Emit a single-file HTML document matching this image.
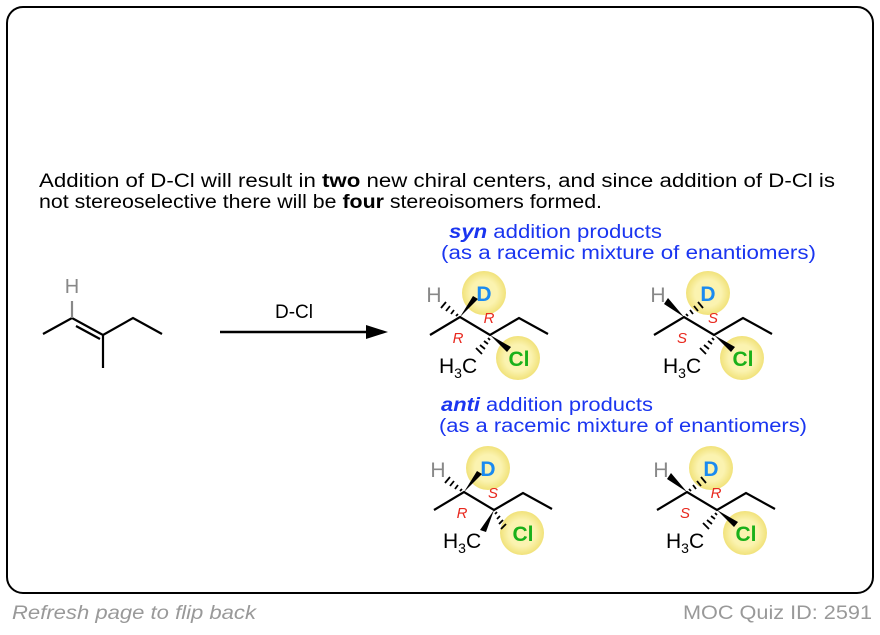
<!DOCTYPE html><html><head><style>body{margin:0;width:880px;height:630px;background:#fff;overflow:hidden}</style></head><body>
<svg width="880" height="630" xmlns="http://www.w3.org/2000/svg" font-family="Liberation Sans, Arial, sans-serif">
<defs>
<radialGradient id="g"><stop offset="0.6" stop-color="#fbf3b0"/><stop offset="1" stop-color="#f1e27a"/></radialGradient>
<g id="skel" stroke="#000" stroke-width="2.2" fill="none"><path d="M430,335 L460,317 L490,335 L519,318 L548,334"/></g>
</defs>
<rect x="7" y="7" width="866" height="586" rx="16" fill="#fff" stroke="#000" stroke-width="2"/>
<g font-size="19" fill="#000">
<text x="39" y="187" textLength="796" lengthAdjust="spacingAndGlyphs">Addition of D-Cl will result in <tspan font-weight="bold">two</tspan> new chiral centers, and since addition of D-Cl is</text>
<text x="39" y="208" textLength="563" lengthAdjust="spacingAndGlyphs">not stereoselective there will be <tspan font-weight="bold">four</tspan> stereoisomers formed.</text>
</g>
<g stroke="#000" stroke-width="2.2" fill="none"><path d="M43,334 L72,318 L103,335 L133,318 L162,334 M103,335 L103,368"/><path d="M76,326 L100,339" /></g>
<line x1="72" y1="318" x2="72" y2="301" stroke="#888" stroke-width="2.2"/>
<text x="72" y="293" font-size="20" fill="#888" text-anchor="middle">H</text>
<line x1="220" y1="332" x2="370" y2="332" stroke="#000" stroke-width="2.5"/>
<path d="M388,332 L366,325 L366,339 Z" fill="#000"/>
<text x="294" y="318" font-size="19" text-anchor="middle">D-Cl</text>
<g font-size="19" fill="#1a35f0">
<text x="449" y="238" textLength="213" lengthAdjust="spacingAndGlyphs"><tspan font-weight="bold" font-style="italic">syn</tspan> addition products</text>
<text x="441" y="259" textLength="375" lengthAdjust="spacingAndGlyphs">(as a racemic mixture of enantiomers)</text>
<text x="441" y="411" textLength="212" lengthAdjust="spacingAndGlyphs"><tspan font-weight="bold" font-style="italic">anti</tspan> addition products</text>
<text x="439" y="432" textLength="368" lengthAdjust="spacingAndGlyphs">(as a racemic mixture of enantiomers)</text>
</g>
<g id="m1">
<circle cx="484" cy="293" r="22" fill="url(#g)"/><circle cx="518" cy="358" r="22" fill="url(#g)"/>
<use href="#skel"/>
<text x="434" y="302" font-size="21" fill="#888" text-anchor="middle">H</text>
<text x="484" y="301" font-size="21" font-weight="bold" fill="#1a8af0" text-anchor="middle">D</text>
<text x="519" y="366" font-size="21" font-weight="bold" fill="#1ab01a" text-anchor="middle">Cl</text>
<text x="439" y="373" font-size="21">H<tspan font-size="14" dy="5">3</tspan><tspan dy="-5">C</tspan></text>
</g>
<use href="#m1" x="224" y="0"/>
<use href="#m1" x="4" y="175"/>
<use href="#m1" x="227" y="175"/>
<g fill="#000" stroke="#000" stroke-width="1.8">
<path d="M460,317 L478,299 L473,296 Z" stroke="none"/>
<path d="M458,314 L456,316 M454,310 L451,314 M450,306 L446,311 M446,302 L441,308" />
<path d="M490,335 L507,352 L511,347 Z" stroke="none"/>
<path d="M488,338 L490,340 M484,341 L488,344 M480,345 L485,349 M476,348 L482,354"/>
<path d="M684,317 L668,298 L664,304 Z" stroke="none"/>
<path d="M686,314 L688,316 M690,310 L693,314 M694,306 L698,311 M698,302 L703,308"/>
<path d="M714,335 L731,352 L735,347 Z" stroke="none"/>
<path d="M712,338 L714,340 M708,341 L712,344 M704,345 L709,349 M700,348 L706,354"/>
<path d="M464,492 L482,474 L477,471 Z" stroke="none"/>
<path d="M462,489 L460,491 M458,485 L455,489 M454,481 L450,486 M450,477 L445,483"/>
<path d="M494,510 L480,530 L486,532 Z" stroke="none"/>
<path d="M497,512 L495,514 M500,516 L497,519 M503,520 L499,524 M506,524 L501,529"/>
<path d="M687,492 L671,473 L667,479 Z" stroke="none"/>
<path d="M689,489 L691,491 M693,485 L696,489 M697,481 L701,486 M701,477 L706,483"/>
<path d="M717,510 L734,527 L738,522 Z" stroke="none"/>
<path d="M715,513 L717,515 M711,516 L715,519 M707,520 L712,524 M703,523 L709,529"/>
</g>
<g font-size="15" font-style="italic" fill="#e8281e" text-anchor="middle">
<text x="458" y="343">R</text><text x="489" y="323">R</text>
<text x="682" y="343">S</text><text x="713" y="323">S</text>
<text x="462" y="518">R</text><text x="493" y="498">S</text>
<text x="685" y="518">S</text><text x="716" y="498">R</text>
</g>
<text x="12" y="619" font-size="19" font-style="italic" fill="#999" textLength="244" lengthAdjust="spacingAndGlyphs">Refresh page to flip back</text>
<text x="683" y="619" font-size="19" fill="#999" textLength="189" lengthAdjust="spacingAndGlyphs">MOC Quiz ID: 2591</text>
</svg>
</body></html>
